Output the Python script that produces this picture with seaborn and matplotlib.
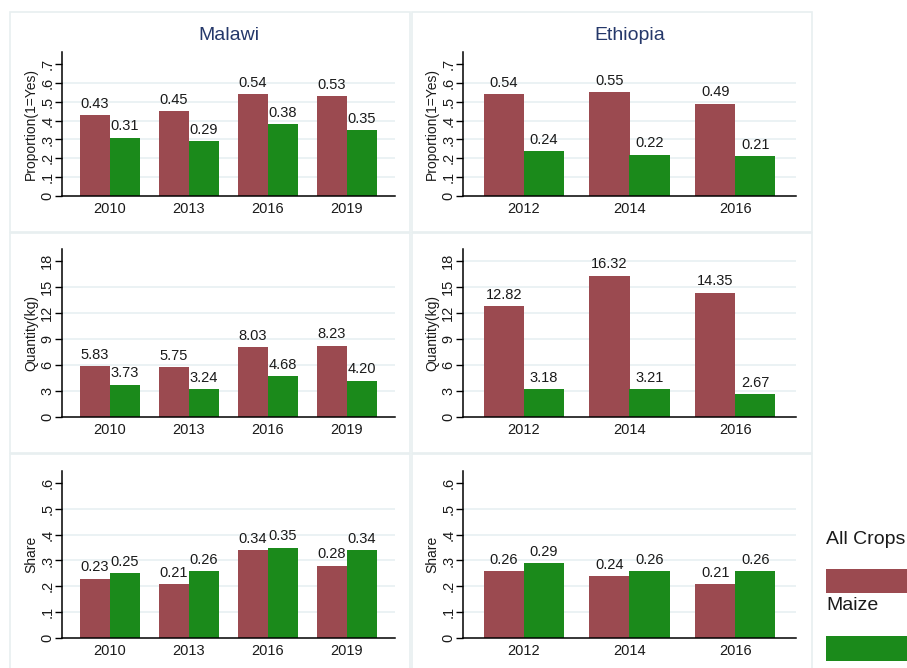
import matplotlib
matplotlib.use("Agg")
import matplotlib.pyplot as plt
from matplotlib.patches import Rectangle
from matplotlib.ticker import FuncFormatter, FixedLocator
import numpy as np
import pandas as pd
import seaborn as sns

# ---- data -------------------------------------------------------------
malawi_years = ["2010", "2013", "2016", "2019"]
ethiopia_years = ["2012", "2014", "2016"]
crops = ["All Crops", "Maize"]

malawi_prop_all = [0.43, 0.45, 0.54, 0.53]
malawi_prop_maize = [0.31, 0.29, 0.38, 0.35]
ethiopia_prop_all = [0.54, 0.55, 0.49]
ethiopia_prop_maize = [0.24, 0.22, 0.21]

malawi_qty_all = [5.83, 5.75, 8.03, 8.23]
malawi_qty_maize = [3.73, 3.24, 4.68, 4.20]
ethiopia_qty_all = [12.82, 16.32, 14.35]
ethiopia_qty_maize = [3.18, 3.21, 2.67]

malawi_share_all = [0.23, 0.21, 0.34, 0.28]
malawi_share_maize = [0.25, 0.26, 0.35, 0.34]
ethiopia_share_all = [0.26, 0.24, 0.21]
ethiopia_share_maize = [0.29, 0.26, 0.26]

# ---- style ------------------------------------------------------------
sns.set_theme(style="white")
plt.rcParams["font.family"] = ["Liberation Sans", "DejaVu Sans"]

MAROON = "#9b4a50"
GREEN = "#1b8a1b"
GRID = "#e6eff1"
BOX = "#e8eff0"
NAVY = "#25386a"
INK = "#1a1a1a"

W, H = 907, 668
fig = plt.figure(figsize=(W / 100, H / 100), dpi=100)
fig.patch.set_facecolor("white")


def frac_rect(x0, y0, x1, y1):
    """Pixel box (top-left origin) -> figure fraction rect."""
    return [x0 / W, 1 - y1 / H, (x1 - x0) / W, (y1 - y0) / H]


def stata_fmt(v, _pos):
    if abs(v) < 1e-9:
        return "0"
    if abs(v - round(v)) < 1e-9:
        return str(int(round(v)))
    s = f"{v:.1f}"
    return s[1:] if s.startswith("0") else s


# panel frames
for (x0, x1) in [(10, 410), (412, 812)]:
    for (y0, y1) in [(12, 232), (233, 453), (454, 676)]:
        fig.patches.append(Rectangle((x0 / W, 1 - y1 / H), (x1 - x0) / W,
                                     (y1 - y0) / H, transform=fig.transFigure,
                                     fill=False, edgecolor=BOX, lw=1.2))

panels = [
    # (years, all, maize, ylabel, ticks, ytop, grid ticks, title, pixel box, margin)
    (malawi_years, malawi_prop_all, malawi_prop_maize, "Proportion(1=Yes)",
     np.arange(0, 0.71, 0.1), 0.764, np.arange(0.1, 0.61, 0.1), "Malawi",
     (62, 52, 395, 196), 0.108),
    (ethiopia_years, ethiopia_prop_all, ethiopia_prop_maize, "Proportion(1=Yes)",
     np.arange(0, 0.71, 0.1), 0.764, np.arange(0.1, 0.61, 0.1), "Ethiopia",
     (463, 52, 796, 196), 0.075),
    (malawi_years, malawi_qty_all, malawi_qty_maize, "Quantity(kg)",
     np.arange(0, 19, 3), 19.38, np.arange(3, 16, 3), None,
     (62, 249, 395, 417), 0.108),
    (ethiopia_years, ethiopia_qty_all, ethiopia_qty_maize, "Quantity(kg)",
     np.arange(0, 19, 3), 19.38, np.arange(3, 19, 3), None,
     (463, 249, 796, 417), 0.075),
    (malawi_years, malawi_share_all, malawi_share_maize, "Share",
     np.arange(0, 0.61, 0.1), 0.646, np.arange(0.1, 0.51, 0.1), None,
     (62, 471, 395, 638), 0.108),
    (ethiopia_years, ethiopia_share_all, ethiopia_share_maize, "Share",
     np.arange(0, 0.61, 0.1), 0.646, np.arange(0.1, 0.51, 0.1), None,
     (463, 471, 796, 638), 0.075),
]

for years, v_all, v_maize, ylabel, ticks, ytop, gticks, title, box, margin in panels:
    ax = fig.add_axes(frac_rect(*box))
    df = pd.DataFrame({
        "year": years * 2,
        "value": list(v_all) + list(v_maize),
        "crop": [crops[0]] * len(years) + [crops[1]] * len(years),
    })
    for g in gticks:
        ax.axhline(g, color=GRID, lw=1.1, zorder=0)
    sns.barplot(data=df, x="year", y="value", hue="crop", order=years,
                hue_order=crops, palette=[MAROON, GREEN], saturation=1,
                width=0.76, legend=False, errorbar=None, ax=ax, zorder=2,
                linewidth=0, edgecolor="none")
    for cont in ax.containers:
        ax.bar_label(cont, fmt="%.2f", padding=3, fontsize=10.5, color=INK)

    n = len(years)
    ax.set_xlim(-0.5 - margin, n - 0.5 + margin)
    ax.set_ylim(0, ytop)
    ax.yaxis.set_major_locator(FixedLocator(ticks))
    ax.yaxis.set_major_formatter(FuncFormatter(stata_fmt))
    ax.tick_params(axis="y", left=True, length=5, width=1, color="black",
                   labelsize=10.5, labelrotation=90, pad=0.5, labelcolor=INK)
    for lab in ax.get_yticklabels():
        lab.set_va("center")
    ax.tick_params(axis="x", bottom=False, length=0, labelsize=10.5, pad=4,
                   labelcolor=INK)
    ax.set_xlabel("")
    ax.set_ylabel(ylabel, fontsize=10, labelpad=1.5, color=INK)
    ax.set_facecolor("none")
    for side in ["top", "right"]:
        ax.spines[side].set_visible(False)
    for side in ["left", "bottom"]:
        ax.spines[side].set_color("black")
        ax.spines[side].set_linewidth(1.1)
    ax.grid(False)
    if title:
        ax.set_title(title, fontsize=14, color=NAVY, pad=9)

# legend column
fig.text(826 / W, 1 - 539 / H, crops[0], fontsize=14, va="center", ha="left",
         color=INK)
fig.patches.append(Rectangle((826 / W, 1 - 593 / H), 90 / W, 24 / H,
                             transform=fig.transFigure, color=MAROON, lw=0))
fig.text(826 / W, 1 - 606 / H, crops[1], fontsize=14, va="center", ha="left",
         color=INK)
fig.patches.append(Rectangle((826 / W, 1 - 661 / H), 90 / W, 25 / H,
                             transform=fig.transFigure, color=GREEN, lw=0))

fig.savefig("out.png", dpi=100, facecolor="white")
